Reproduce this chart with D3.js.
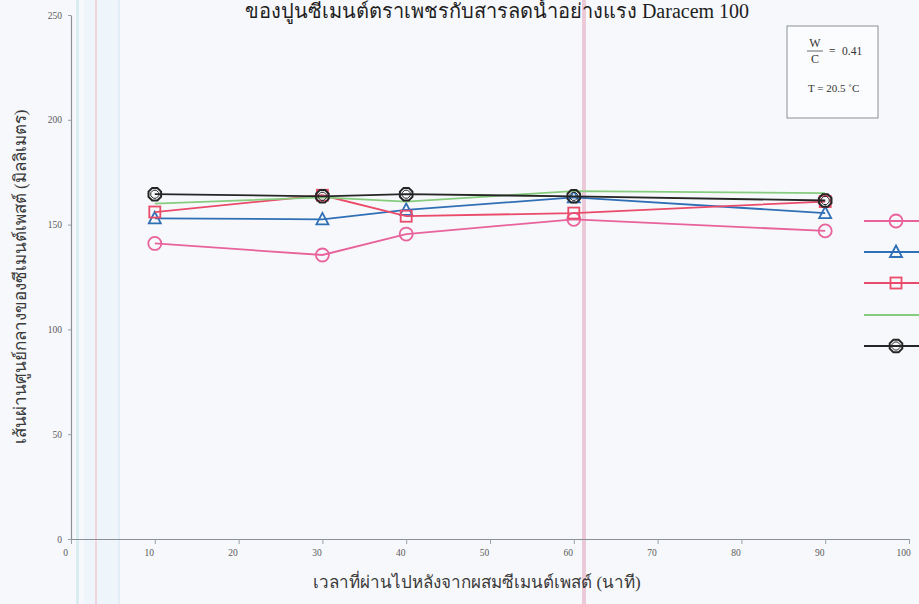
<!DOCTYPE html>
<html>
<head>
<meta charset="utf-8">
<script src="https://cdn.jsdelivr.net/npm/d3@7/dist/d3.min.js"></script>
<style>
  html, body { margin: 0; padding: 0; background: #f7f8fb; }
  svg { display: block; }
</style>
</head>
<body>
<svg id="chart" width="919" height="604"></svg>
<script>
// Elapsed time after mixing (minutes)
const times = [10, 30, 40, 60, 90];

// Spread diameter of cement paste (mm), one array per mix
const seriesPink  = [141, 135.5, 145.5, 152.5, 147];
const seriesBlue  = [153, 152.5, 157, 163, 155.5];
const seriesRed   = [156, 164, 154, 155.5, 161];
const seriesGreen = [160, 163, 161, 166, 165];
const seriesBlack = [164.5, 163.5, 164.5, 163.5, 161.5];

const xTicks = [0, 10, 20, 30, 40, 50, 60, 70, 80, 90, 100];
const yTicks = [0, 50, 100, 150, 200, 250];

const titleText = "ของปูนซีเมนต์ตราเพชรกับสารลดน้ำอย่างแรง Daracem 100";
const xLabel = "เวลาที่ผ่านไปหลังจากผสมซีเมนต์เพสต์ (นาที)";
const yLabel = "เส้นผ่านศูนย์กลางของซีเมนต์เพสต์ (มิลลิเมตร)";

const series = [
  { name: "ชุดที่ 1", values: seriesPink,  color: "#e8629c", marker: "circle" },
  { name: "ชุดที่ 2", values: seriesBlue,  color: "#2f6fb6", marker: "triangle" },
  { name: "ชุดที่ 3", values: seriesRed,   color: "#ea4b6a", marker: "square" },
  { name: "ชุดที่ 4", values: seriesGreen, color: "#86cc7e", marker: "none" },
  { name: "ชุดที่ 5", values: seriesBlack, color: "#262626", marker: "hexagon" }
];

const svg = d3.select("#chart");
const serif = "'Liberation Serif', 'DejaVu Serif', serif";

// faint vertical streaks across the page
const streaks = [
  { x: 76, w: 3, c: "#d9eef0" },
  { x: 84, w: 36, c: "#eef5fb" },
  { x: 95, w: 2, c: "#f0d4de" },
  { x: 118, w: 2, c: "#e2eef6" },
  { x: 582, w: 4, c: "#ecc9d6" }
];
svg.selectAll("rect.streak").data(streaks).join("rect")
  .attr("class", "streak")
  .attr("x", d => d.x).attr("y", 0)
  .attr("width", d => d.w).attr("height", 604)
  .attr("fill", d => d.c);

const x = d3.scaleLinear().domain([0, 100]).range([71, 909]);
const y = d3.scaleLinear().domain([0, 250]).range([539, 15]);

// axes
const xAxis = svg.append("g")
  .attr("transform", `translate(0,${y(0)})`)
  .call(d3.axisBottom(x).tickValues(xTicks).tickSize(5).tickSizeOuter(0).tickFormat(d3.format("d")));
const yAxis = svg.append("g")
  .attr("transform", `translate(${x(0)},0)`)
  .call(d3.axisLeft(y).tickValues(yTicks).tickSize(5).tickSizeOuter(0).tickFormat(d3.format("d")));

[xAxis, yAxis].forEach(g => {
  g.select(".domain").attr("stroke", "#8a9096").attr("stroke-width", 1.2);
  g.selectAll(".tick line").attr("stroke", "#9aa0a6");
  g.selectAll(".tick text").attr("fill", "#5a5a5a")
    .style("font-family", serif).style("font-size", "9.5px");
});
xAxis.selectAll(".tick text").attr("dx", -6).attr("y", 10);
yAxis.selectAll(".tick text").attr("x", -9);
yAxis.selectAll(".tick line").attr("x2", -3);

// axis titles
svg.append("text")
  .attr("x", 477).attr("y", 588)
  .attr("text-anchor", "middle")
  .style("font-family", serif).style("font-size", "17px")
  .attr("fill", "#3a3a3a")
  .text(xLabel);

svg.append("text")
  .attr("transform", `translate(26,${277}) rotate(-90)`)
  .attr("text-anchor", "middle")
  .style("font-family", serif).style("font-size", "17px")
  .attr("fill", "#3a3a3a")
  .text(yLabel);

// title
svg.append("text")
  .attr("x", 497).attr("y", 18)
  .attr("text-anchor", "middle")
  .style("font-family", serif).style("font-size", "20px")
  .attr("fill", "#1e1e1e")
  .text(titleText);

// markers
function drawMarker(g, type, color) {
  if (type === "circle") {
    g.append("circle").attr("r", 6.5)
      .attr("fill", "none").attr("stroke", color).attr("stroke-width", 1.8);
  } else if (type === "triangle") {
    g.append("path").attr("d", "M0,-6.5L6,5L-6,5Z")
      .attr("fill", "none").attr("stroke", color).attr("stroke-width", 1.8);
  } else if (type === "square") {
    g.append("rect").attr("x", -5.5).attr("y", -5.5).attr("width", 11).attr("height", 11)
      .attr("fill", "none").attr("stroke", color).attr("stroke-width", 1.8);
  } else if (type === "hexagon") {
    const pts = d3.range(8).map(i => {
      const a = Math.PI / 8 + i * Math.PI / 4;
      return [6.8 * Math.cos(a), 6.8 * Math.sin(a)];
    });
    g.append("path").attr("d", "M" + pts.join("L") + "Z")
      .attr("fill", "none").attr("stroke", color).attr("stroke-width", 2);
    g.append("path").attr("d", "M-4,-1.5L-1.5,-4L1.5,-4L4,-1.5L4,1.5L1.5,4L-1.5,4L-4,1.5Z")
      .attr("fill", "none").attr("stroke", color).attr("stroke-width", 1);
  }
}

const line = d3.line().x((d, i) => x(times[i])).y(d => y(d));

series.forEach(s => {
  svg.append("path")
    .datum(s.values)
    .attr("d", line)
    .attr("fill", "none")
    .attr("stroke", s.color)
    .attr("stroke-width", 1.8);
  if (s.marker !== "none") {
    s.values.forEach((v, i) => {
      const g = svg.append("g").attr("transform", `translate(${x(times[i])},${y(v)})`);
      drawMarker(g, s.marker, s.color);
    });
  }
});

// legend (extends past the right edge)
const legendY = [221, 252, 283, 315, 346];
series.forEach((s, i) => {
  const g = svg.append("g").attr("transform", `translate(0,${legendY[i]})`);
  g.append("line").attr("x1", 864).attr("x2", 925).attr("y1", 0).attr("y2", 0)
    .attr("stroke", s.color).attr("stroke-width", 1.8);
  if (s.marker !== "none") {
    const m = g.append("g").attr("transform", "translate(896,0)");
    drawMarker(m, s.marker, s.color);
  }
});

// condition box
const box = svg.append("g");
box.append("rect")
  .attr("x", 787).attr("y", 26).attr("width", 91).attr("height", 92)
  .attr("fill", "#fbfcfd").attr("stroke", "#8b8f94").attr("stroke-width", 1);
box.append("text").attr("x", 815).attr("y", 47).attr("text-anchor", "middle")
  .style("font-family", serif).style("font-size", "12px").attr("fill", "#333").text("W");
box.append("line").attr("x1", 807).attr("x2", 823).attr("y1", 51).attr("y2", 51)
  .attr("stroke", "#444").attr("stroke-width", 0.8);
box.append("text").attr("x", 815).attr("y", 63).attr("text-anchor", "middle")
  .style("font-family", serif).style("font-size", "12px").attr("fill", "#333").text("C");
box.append("text").attr("x", 829).attr("y", 55)
  .style("font-family", serif).style("font-size", "11.5px").attr("fill", "#333").text("=");
box.append("text").attr("x", 842).attr("y", 55)
  .style("font-family", serif).style("font-size", "11.5px").attr("fill", "#333").text("0.41");
box.append("text").attr("x", 808).attr("y", 92)
  .style("font-family", serif).style("font-size", "11px").attr("fill", "#333").text("T = 20.5 ˚C");
</script>
</body>
</html>
